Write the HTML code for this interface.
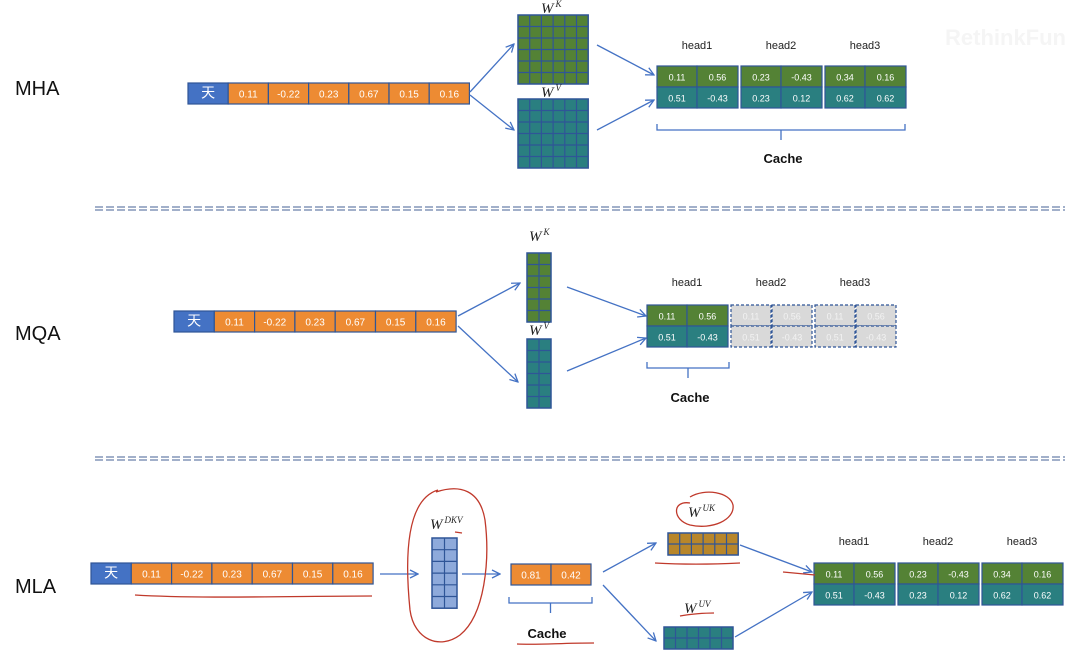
<!DOCTYPE html>
<html><head><meta charset="utf-8"><style>
html,body{margin:0;padding:0;background:#fff;}
svg{display:block;font-family:"Liberation Sans","Noto Sans CJK SC",sans-serif;}
</style></head><body>
<svg id="s" width="1080" height="659" viewBox="0 0 1080 659" xmlns="http://www.w3.org/2000/svg">
<defs>
<marker id="ar" markerWidth="10" markerHeight="10" refX="9" refY="5" orient="auto" markerUnits="userSpaceOnUse">
<path d="M1,1 L9,5 L1,9" fill="none" stroke="#4472c4" stroke-width="1.3"/></marker>
</defs>
<text x="15" y="95" font-size="20" fill="#111">MHA</text>
<text x="15" y="340" font-size="20" fill="#111">MQA</text>
<text x="15" y="593" font-size="20" fill="#111">MLA</text>
<text x="945" y="45" font-size="22" font-weight="bold" fill="#f5f5f5">RethinkFun</text>
<g stroke="#8496b8" stroke-width="1.5" stroke-dasharray="8,3">
<line x1="95" y1="207" x2="1065" y2="207"/><line x1="95" y1="210" x2="1065" y2="210"/>
<line x1="95" y1="457" x2="1065" y2="457"/><line x1="95" y1="460" x2="1065" y2="460"/>
</g>
<g id="g"></g>
</svg>
<script>
const g=document.getElementById('g');const NS='http://www.w3.org/2000/svg';
function el(t,a,txt){const e=document.createElementNS(NS,t);for(const k in a)e.setAttribute(k,a[k]);if(txt!==undefined)e.textContent=txt;g.appendChild(e);return e;}
function cell(x,y,w,h,fill,txt,col,fs,dash){el('rect',{x,y,width:w,height:h,fill,stroke:'#2f5597','stroke-width':1.2,'stroke-dasharray':dash||''});if(txt!==undefined)el('text',{x:x+w/2,y:y+h/2+4,'font-size':fs||10,fill:col||'#fff','text-anchor':'middle'},txt);}
function vec(x,y,w,h,vals){cell(x,y,w,h,'#4472c4','天','#fff',14);vals.forEach((v,i)=>cell(x+w+i*w,y,w,h,'#ed8b33',v));}
function grid(x,y,cols,rows,cs,rh,fill){el('rect',{x,y,width:cols*cs,height:rows*rh,fill,stroke:'#2f5597','stroke-width':1.5});for(let i=1;i<cols;i++)el('line',{x1:x+i*cs,y1:y,x2:x+i*cs,y2:y+rows*rh,stroke:'#2f5597','stroke-width':1.2});for(let j=1;j<rows;j++)el('line',{x1:x,y1:y+j*rh,x2:x+cols*cs,y2:y+j*rh,stroke:'#2f5597','stroke-width':1.2});}
function arrow(x1,y1,x2,y2){el('line',{x1,y1,x2,y2,stroke:'#4472c4','stroke-width':1.3,'marker-end':'url(#ar)'});}
function wlab(x,y,sup){const t=el('text',{x,y,'font-size':15,'font-style':'italic','font-family':'Liberation Serif,serif',fill:'#222'},'W');const s=document.createElementNS(NS,'tspan');s.setAttribute('dx',2);s.setAttribute('dy',-6);s.setAttribute('font-size',9);s.textContent=sup;t.appendChild(s);}
function brace(x1,x2,y){el('path',{d:`M${x1},${y} v6 H${x2} v-6 M${(x1+x2)/2},${y+6} v10`,fill:'none',stroke:'#4472c4','stroke-width':1.3});}
function heads(x,y,ly,data,dashed){const G='#548235',T='#2a7f80';data.forEach((d,i)=>{const hx=x+i*84;el('text',{x:hx+40,y:ly,'font-size':11,fill:'#222','text-anchor':'middle'},'head'+(i+1));if(dashed&&i>0){['0.11','0.56'].forEach((v,k)=>cell(hx+k*41,y,40,21,'#d9d9d9',v,'#f2f2f2',9,'3,2'));['0.51','-0.43'].forEach((v,k)=>cell(hx+k*41,y+21,40,21,'#d9d9d9',v,'#f2f2f2',9,'3,2'));}else{cell(hx,y,40,21,G,d[0],'#fff',9);cell(hx+40,y,41,21,G,d[1],'#fff',9);cell(hx,y+21,40,21,T,d[2],'#fff',9);cell(hx+40,y+21,41,21,T,d[3],'#fff',9);}});}
const V=['0.11','-0.22','0.23','0.67','0.15','0.16'];
const H=[['0.11','0.56','0.51','-0.43'],['0.23','-0.43','0.23','0.12'],['0.34','0.16','0.62','0.62']];
vec(188,83,40.2,21,V);
grid(518,15,6,6,11.7,11.5,'#548235');grid(518,99,6,6,11.7,11.5,'#2a7f80');
wlab(541,13,'K');wlab(541,97,'V');
arrow(470,92,514,44);arrow(470,95,514,130);
arrow(597,45,654,75);arrow(597,130,654,100);
heads(657,66,49,H,false);
brace(657,905,124);
el('text',{x:783,y:163,'font-size':13,'font-weight':'bold','text-anchor':'middle',fill:'#111'},'Cache');
vec(174,311,40.3,21,V);
grid(527,253,2,6,12,11.5,'#548235');grid(527,339,2,6,12,11.5,'#2a7f80');
wlab(529,241,'K');wlab(529,335,'V');
arrow(458,316,520,283);arrow(458,326,518,382);
arrow(567,287,646,316);arrow(567,371,646,338);
heads(647,305,286,H,true);
brace(647,729,362);
el('text',{x:690,y:402,'font-size':13,'font-weight':'bold','text-anchor':'middle',fill:'#111'},'Cache');
vec(91,563,40.3,21,V);
arrow(380,574,418,574);
grid(432,538,2,6,12.5,11.7,'#8eaadb');
wlab(430,529,'DKV');
arrow(462,574,500,574);
cell(511,564,40,21,'#ed8b33','0.81');cell(551,564,40,21,'#ed8b33','0.42');
brace(509,592,597);
el('text',{x:547,y:638,'font-size':13,'font-weight':'bold','text-anchor':'middle',fill:'#111'},'Cache');
grid(668,533,6,2,11.7,11,'#b8862a');
grid(664,627,6,2,11.5,11,'#2a7f80');
wlab(688,517,'UK');wlab(684,613,'UV');
arrow(603,572,656,543);arrow(603,585,656,641);
arrow(740,545,812,572);arrow(735,637,812,592);
heads(814,563,545,H,false);
const R={fill:'none',stroke:'#c0392b','stroke-width':1.3};
el('path',Object.assign({d:'M438,490 C405,500 405,560 410,610 C414,640 440,650 460,635 C485,615 490,560 485,520 C480,490 460,484 436,492'},R));
el('path',Object.assign({d:'M690,503 C672,500 672,520 690,525 C712,530 735,520 733,505 C730,492 705,488 690,497'},R));
el('path',Object.assign({d:'M135,595 C200,599 300,596 372,596'},R));
el('path',Object.assign({d:'M655,563 C690,565 720,564 740,563'},R));
el('path',Object.assign({d:'M680,616 C690,614 705,613 714,613'},R));
el('path',Object.assign({d:'M517,644 C540,645 560,643 594,643'},R));
el('path',Object.assign({d:'M783,572 L815,575'},R));
el('path',Object.assign({d:'M455,532 L462,533'},R));
</script>
</body></html>
